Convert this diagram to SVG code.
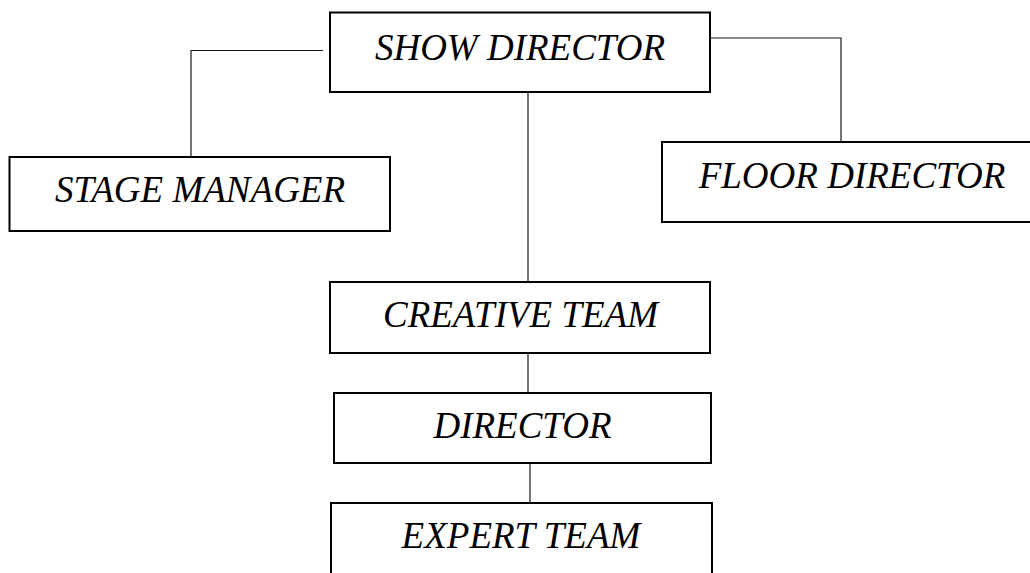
<svg xmlns="http://www.w3.org/2000/svg" width="1030" height="573" viewBox="0 0 1030 573">
  <style>
    .box { fill: #ffffff; stroke: #000000; stroke-width: 2; }
    .label { font-family: "Liberation Serif", "Times New Roman", serif; font-style: italic; font-size: 37px; fill: #000000; text-anchor: middle; }
    .wire { fill: none; stroke: #1a1a1a; stroke-width: 1.2; }
  </style>
  <rect x="0" y="0" width="1030" height="573" fill="#ffffff"/>

  <!-- connectors -->
  <g id="connectors">
    <polyline class="wire" points="323,50.5 191,50.5 191,157"/>
    <polyline class="wire" points="710,38 841,38 841,142"/>
    <line class="wire" x1="528" y1="92" x2="528" y2="282"/>
    <line class="wire" x1="528" y1="353" x2="528" y2="393"/>
    <line class="wire" x1="530" y1="463" x2="530" y2="503"/>
  </g>

  <g id="show-director">
    <rect class="box" x="330" y="12.5" width="380" height="79.5"/>
    <text class="label" x="520" y="60">SHOW DIRECTOR</text>
  </g>

  <g id="stage-manager">
    <rect class="box" x="9.5" y="157" width="380.5" height="74"/>
    <text class="label" x="200" y="202">STAGE MANAGER</text>
  </g>

  <g id="floor-director">
    <rect class="box" x="662" y="142" width="380" height="80"/>
    <text class="label" x="852" y="188">FLOOR DIRECTOR</text>
  </g>

  <g id="creative-team">
    <rect class="box" x="330" y="282" width="380" height="71"/>
    <text class="label" x="520.5" y="327">CREATIVE TEAM</text>
  </g>

  <g id="director">
    <rect class="box" x="334" y="393" width="377" height="70"/>
    <text class="label" x="522.5" y="438">DIRECTOR</text>
  </g>

  <g id="expert-team">
    <rect class="box" x="331" y="503" width="381" height="90"/>
    <text class="label" x="521" y="548">EXPERT TEAM</text>
  </g>
</svg>
